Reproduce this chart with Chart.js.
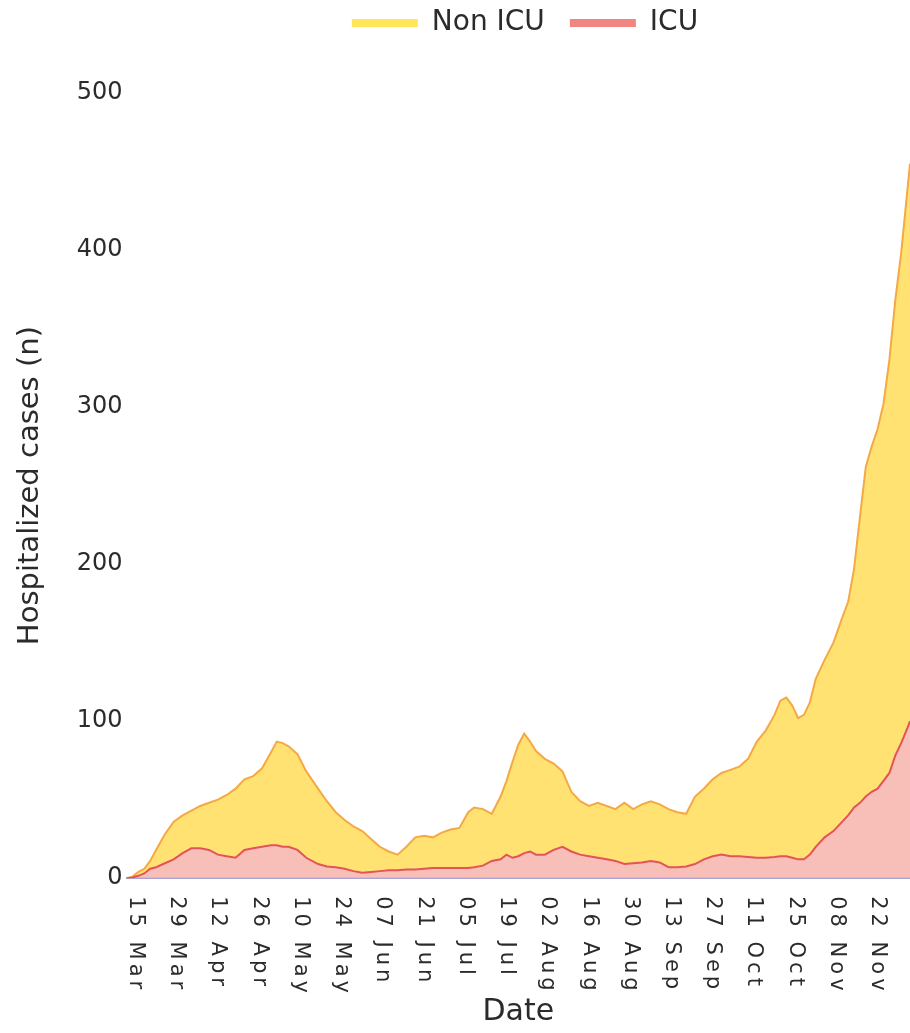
<!DOCTYPE html>
<html>
<head>
<meta charset="utf-8">
<title>Hospitalized cases</title>
<script src="https://cdn.jsdelivr.net/npm/chart.js@4.4.0/dist/chart.umd.min.js"></script>
<style>
  html, body { margin: 0; padding: 0; background: #fff; }
  #wrap { width: 910px; height: 1033px; position: relative; }
</style>
</head>
<body>
<div id="wrap"><canvas id="casesChart"></canvas></div>
<script>
// Days counted from 15 Mar
const dayOffsets = [
  -3, -1, 1, 3, 5, 7, 10, 13, 16, 19, 22, 25, 28, 31, 34, 37, 40, 43, 46, 48,
  50, 52, 55, 58, 62, 65, 68, 71, 74, 77, 80, 83, 86, 89, 92, 95, 98, 101, 104, 107,
  110, 113, 115, 118, 121, 124, 126, 128, 130, 132, 134, 136, 139, 142, 145, 148, 151, 154, 157, 160,
  163, 166, 169, 172, 175, 178, 181, 184, 187, 190, 193, 196, 199, 202, 205, 208, 211, 214, 217, 219,
  221, 223, 225, 227, 229, 231, 234, 237, 240, 242, 244, 246, 248, 250, 252, 254, 256, 258, 260, 262,
  263
];

const icuCases = [
  0, 0.5, 1.5, 3, 6, 7, 9.5, 12, 16, 19, 19, 18, 15, 14, 13, 18, 19, 20, 21, 21,
  20, 20, 18, 13, 9, 7.5, 7, 6, 4.5, 3.5, 4, 4.5, 5, 5, 5.5, 5.5, 6, 6.5, 6.5, 6.5,
  6.5, 6.5, 7, 8, 11, 12, 15, 13, 14, 16, 17, 15, 15, 18, 20, 17, 15, 14, 13, 12,
  11, 9, 9.5, 10, 11, 10, 7, 7, 7.5, 9, 12, 14, 15, 14, 14, 13.5, 13, 13, 13.5, 14,
  14, 13, 12, 12, 15, 20, 26, 30, 36, 40, 45, 48, 52, 55, 57, 62, 67, 78, 86, 95,
  100
];

const nonIcuCases = [
  0, 0.5, 2.5, 3, 5, 11, 18.5, 24, 24, 24, 27, 30, 35, 39, 44, 45, 46, 50, 59, 66,
  66, 64, 61, 55, 48, 41.5, 35, 31, 28.5, 26.5, 21, 15.5, 12, 10, 14.5, 20.5, 21, 19.5, 22.5, 24.5,
  25.5, 35.5, 38, 36, 30, 40, 47, 61, 71, 76, 70, 66, 61, 55, 48, 38, 34, 32, 35, 34,
  33, 39, 34.5, 37, 38, 37, 37, 35, 33.5, 43, 45, 49, 52, 55, 57, 62.5, 74, 81, 90.5, 99,
  101, 97, 90, 92, 97, 107, 113, 120, 130, 136, 152, 182, 210, 220, 229, 240, 263, 290, 312, 341,
  355
];

const tickDays = [0, 14, 28, 42, 56, 70, 84, 98, 112, 126, 140, 154, 168, 182, 196, 210, 224, 238, 252];
const tickLabels = [
  "15 Mar", "29 Mar", "12 Apr", "26 Apr", "10 May", "24 May", "07 Jun", "21 Jun", "05 Jul", "19 Jul",
  "02 Aug", "16 Aug", "30 Aug", "13 Sep", "27 Sep", "11 Oct", "25 Oct", "08 Nov", "22 Nov"
];

const yTicks = [0, 100, 200, 300, 400, 500];

const seriesNames = ["ICU", "Non ICU"];
const legendColors = ["#f08582", "#ffe55c"];

const FONT = "'DejaVu Sans', Verdana, sans-serif";
const TEXT = "#2b2b2b";

// Date labels read downwards (rotated clockwise), Chart.js only rotates the other way
const downwardLabels = {
  id: "downwardLabels",
  afterDraw(chart) {
    const xs = chart.scales.x;
    const ctx = chart.ctx;
    ctx.save();
    ctx.font = "21px " + FONT;
    ctx.fillStyle = TEXT;
    ctx.letterSpacing = "4px";
    ctx.textAlign = "left";
    ctx.textBaseline = "middle";
    xs.ticks.forEach((tick, i) => {
      const px = xs.getPixelForTick(i);
      ctx.save();
      ctx.translate(px, xs.top + 18);
      ctx.rotate(Math.PI / 2);
      ctx.fillText(tickLabels[tickDays.indexOf(tick.value)], 0, 0);
      ctx.restore();
    });
    ctx.restore();
  },
};

// Move the legend over the plot, as in the original figure
const legendShift = {
  id: "legendShift",
  afterLayout(chart) {
    const lg = chart.legend;
    if (!lg) return;
    lg.left += 70;
    lg.right += 70;
    lg.top -= 46;
    lg.bottom -= 46;
  },
};

document.addEventListener("DOMContentLoaded", function () {
  const ctx = document.getElementById("casesChart");

  new Chart(ctx, {
    type: "line",
    data: {
      datasets: [
        {
          label: seriesNames[0],
          data: dayOffsets.map((d, i) => ({ x: d, y: icuCases[i] })),
          borderColor: "#e3545a",
          backgroundColor: "rgba(247, 180, 172, 0.85)",
          borderWidth: 2,
          pointRadius: 0,
          fill: "origin",
          tension: 0,
        },
        {
          label: seriesNames[1],
          data: dayOffsets.map((d, i) => ({ x: d, y: nonIcuCases[i] })),
          borderColor: "#f5a945",
          backgroundColor: "rgba(255, 224, 105, 0.95)",
          borderWidth: 2,
          pointRadius: 0,
          fill: "-1",
          tension: 0,
        },
      ],
    },
    options: {
      responsive: true,
      maintainAspectRatio: false,
      animation: false,
      layout: { padding: { top: 30, left: 0, right: 0, bottom: 0 } },
      plugins: {
        legend: {
          position: "top",
          reverse: true,
          labels: {
            font: { size: 28, family: FONT },
            color: TEXT,
            boxWidth: 66,
            boxHeight: 8,
            padding: 25,
            generateLabels: function (chart) {
              const items = Chart.defaults.plugins.legend.labels.generateLabels(chart);
              return items.map((item) => ({
                ...item,
                fillStyle: legendColors[item.datasetIndex],
                strokeStyle: legendColors[item.datasetIndex],
                lineWidth: 0,
              }));
            },
          },
        },
        tooltip: { enabled: false },
      },
      scales: {
        x: {
          type: "linear",
          min: -3,
          max: 263,
          grid: { display: false, drawTicks: false },
          border: { display: true, color: "#a7a4d6", width: 2 },
          afterBuildTicks: (axis) => {
            axis.ticks = tickDays.map((v) => ({ value: v }));
          },
          afterFit: (axis) => {
            // plot runs to the right edge of the figure
            axis.paddingRight = 0;
          },
          ticks: {
            autoSkip: false,
            minRotation: 90,
            maxRotation: 90,
            padding: 19,
            font: { size: 21, family: FONT },
            color: "rgba(0,0,0,0)",
            callback: (value) => tickLabels[tickDays.indexOf(value)],
          },
          title: {
            display: true,
            text: "Date",
            color: TEXT,
            font: { size: 30, family: FONT },
            padding: { top: 1, bottom: 3 },
          },
        },
        y: {
          stacked: true,
          min: 0,
          max: 500,
          grid: { display: false, drawTicks: false },
          border: { display: false },
          afterBuildTicks: (axis) => {
            axis.ticks = yTicks.map((v) => ({ value: v }));
          },
          ticks: {
            padding: 4,
            font: { size: 24, family: FONT },
            color: TEXT,
          },
          title: {
            display: true,
            text: "Hospitalized cases (n)",
            color: TEXT,
            font: { size: 29, family: FONT },
            padding: { top: 13, bottom: 25 },
          },
        },
      },
    },
    plugins: [downwardLabels, legendShift],
  });
});
</script>
</body>
</html>
